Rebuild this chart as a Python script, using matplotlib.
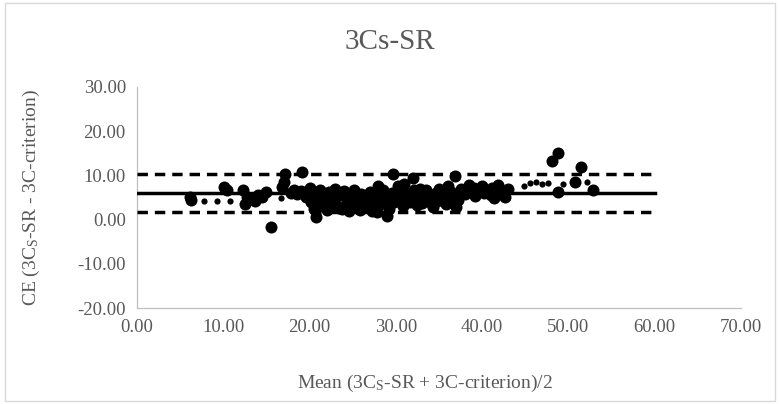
import matplotlib
matplotlib.use("Agg")
import matplotlib.pyplot as plt
from matplotlib.patches import Rectangle

# Bland-Altman style data
big_x = [6.1, 6.3, 10.1, 10.4, 12.3, 12.5, 12.8, 13.7, 14.0, 14.5, 15.0, 15.5,
         16.8, 17.0, 17.2, 17.8, 18.5, 19.1, 19.0,
         20.0, 20.2, 20.5, 20.8, 20.8, 21.2, 21.5, 21.8, 22.0, 22.3, 22.6, 23.0,
         23.2, 23.5, 23.8, 24.0, 24.3, 24.6, 25.0, 25.2, 25.5, 25.8, 26.0, 26.3,
         26.6, 27.0, 27.2, 27.8, 27.6, 27.9, 28.2, 28.5, 28.8, 29.0, 29.2, 29.5,
         29.8, 29.7, 30.2, 30.5, 30.8, 31.0, 31.3, 31.6, 32.0, 32.2, 32.5, 32.8,
         33.2, 33.5, 34.0, 34.3, 34.6, 35.0, 35.4, 35.8, 36.0, 36.4, 36.8, 37.0,
         37.2, 37.6, 38.0, 38.5, 39.0, 39.5, 40.0, 40.5, 41.0, 41.4, 41.8, 42.2,
         42.5, 42.6, 43.0,
         20.4, 21.0, 21.6, 22.2, 22.9, 23.4, 24.1, 24.8, 25.4, 26.1, 26.8, 27.4,
         28.0, 28.7, 29.4, 30.1, 30.7, 31.4, 32.1, 33.0, 33.8, 34.8, 35.6, 36.2,
         37.4, 38.2, 39.2, 40.2, 41.2, 42.0, 19.6, 18.2,
         48.8, 48.1, 51.4, 50.8, 48.8, 52.9]
big_y = [5.1, 4.5, 7.3, 6.8, 6.6, 3.6, 5.0, 4.3, 5.5, 5.2, 6.3, -1.6,
         7.3, 8.5, 10.4, 6.0, 5.8, 10.7, 6.5,
         7.2, 4.0, 2.5, 0.5, 5.5, 6.8, 3.5, 5.0, 2.2, 6.2, 4.2, 7.0,
         3.0, 5.5, 2.5, 6.5, 4.0, 2.0, 5.0, 6.8, 3.2, 2.2, 5.8, 4.5,
         3.0, 6.2, 2.0, 1.7, 4.8, 7.5, 3.5, 6.8, 5.0, 0.9, 2.5, 6.0,
         4.0, 10.3, 7.5, 5.2, 3.0, 8.0, 6.0, 4.0, 9.3, 5.5, 3.2, 7.0,
         5.8, 6.8, 4.0, 2.8, 6.0, 7.0, 5.0, 3.5, 7.5, 6.2, 9.8, 2.8,
         4.5, 7.0, 5.8, 7.8, 7.2, 6.5, 7.5, 6.8, 5.5, 4.8, 7.8, 6.2,
         6.2, 5.2, 7.0,
         6.0, 4.8, 3.0, 4.5, 5.2, 2.6, 5.6, 3.5, 4.6, 3.4, 5.3, 4.0,
         5.8, 3.8, 4.6, 5.6, 6.6, 4.8, 6.6, 3.8, 5.2, 4.2, 6.0, 4.2,
         6.0, 6.8, 5.4, 6.0, 7.2, 5.8, 5.2, 6.8,
         15.0, 13.3, 11.8, 8.5, 6.2, 6.8]

small_x = [7.8, 9.3, 10.8, 16.7, 44.8, 45.5, 46.2, 46.9, 47.6, 49.4, 52.2]
small_y = [4.1, 4.1, 4.3, 4.8, 7.6, 8.2, 8.6, 8.0, 8.3, 8.1, 8.5]

mean_diff = 6.0
upper_loa = 10.4
lower_loa = 1.7
line_x = [0, 60]

serif = "Liberation Serif"
grey = "#595959"
plt.rcParams["font.family"] = serif
plt.rcParams["mathtext.fontset"] = "custom"
plt.rcParams["mathtext.rm"] = serif
plt.rcParams["mathtext.it"] = serif

fig = plt.figure(figsize=(7.8, 4.04), dpi=100)
ax = fig.add_axes([0.1756, 0.2376, 0.7744, 0.5471])

ax.plot(line_x, [mean_diff, mean_diff], color="black", lw=2.5, zorder=3)
ax.plot(line_x, [upper_loa, upper_loa], color="black", lw=2.5, ls=(0, (3, 2)), zorder=3)
ax.plot(line_x, [lower_loa, lower_loa], color="black", lw=2.5, ls=(0, (3, 2)), zorder=3)
ax.scatter(big_x, big_y, s=75, color="black", zorder=4, linewidths=0)
ax.scatter(small_x, small_y, s=20, color="black", zorder=4, linewidths=0)

ax.set_xlim(0, 70)
ax.set_ylim(-20, 30)
ax.set_xticks(range(0, 71, 10))
ax.set_yticks(range(-20, 31, 10))
ax.xaxis.set_major_formatter(lambda v, p: f"{v:.2f}")
ax.yaxis.set_major_formatter(lambda v, p: f"{v:.2f}")
ax.tick_params(length=0, labelsize=13.5, colors=grey, pad=8)
for side in ["top", "right"]:
    ax.spines[side].set_visible(False)
for side in ["left", "bottom"]:
    ax.spines[side].set_color("#bfbfbf")
    ax.spines[side].set_linewidth(0.9)

fig.text(0.5, 0.895, "3Cs-SR", ha="center", va="center", fontsize=21, color=grey)
fig.text(0.545, 0.05, r"Mean (3C$_\mathrm{S}$-SR + 3C-criterion)/2",
         ha="center", va="center", fontsize=14, color=grey)
fig.text(0.04, 0.51, r"CE (3C$_\mathrm{S}$-SR - 3C-criterion)", rotation=90,
         ha="center", va="center", fontsize=14, color=grey)

fig.patches.append(Rectangle((0.007, 0.008), 0.986, 0.984, transform=fig.transFigure,
                             fill=False, edgecolor="#d9d9d9", lw=1))

fig.savefig("out.png")
